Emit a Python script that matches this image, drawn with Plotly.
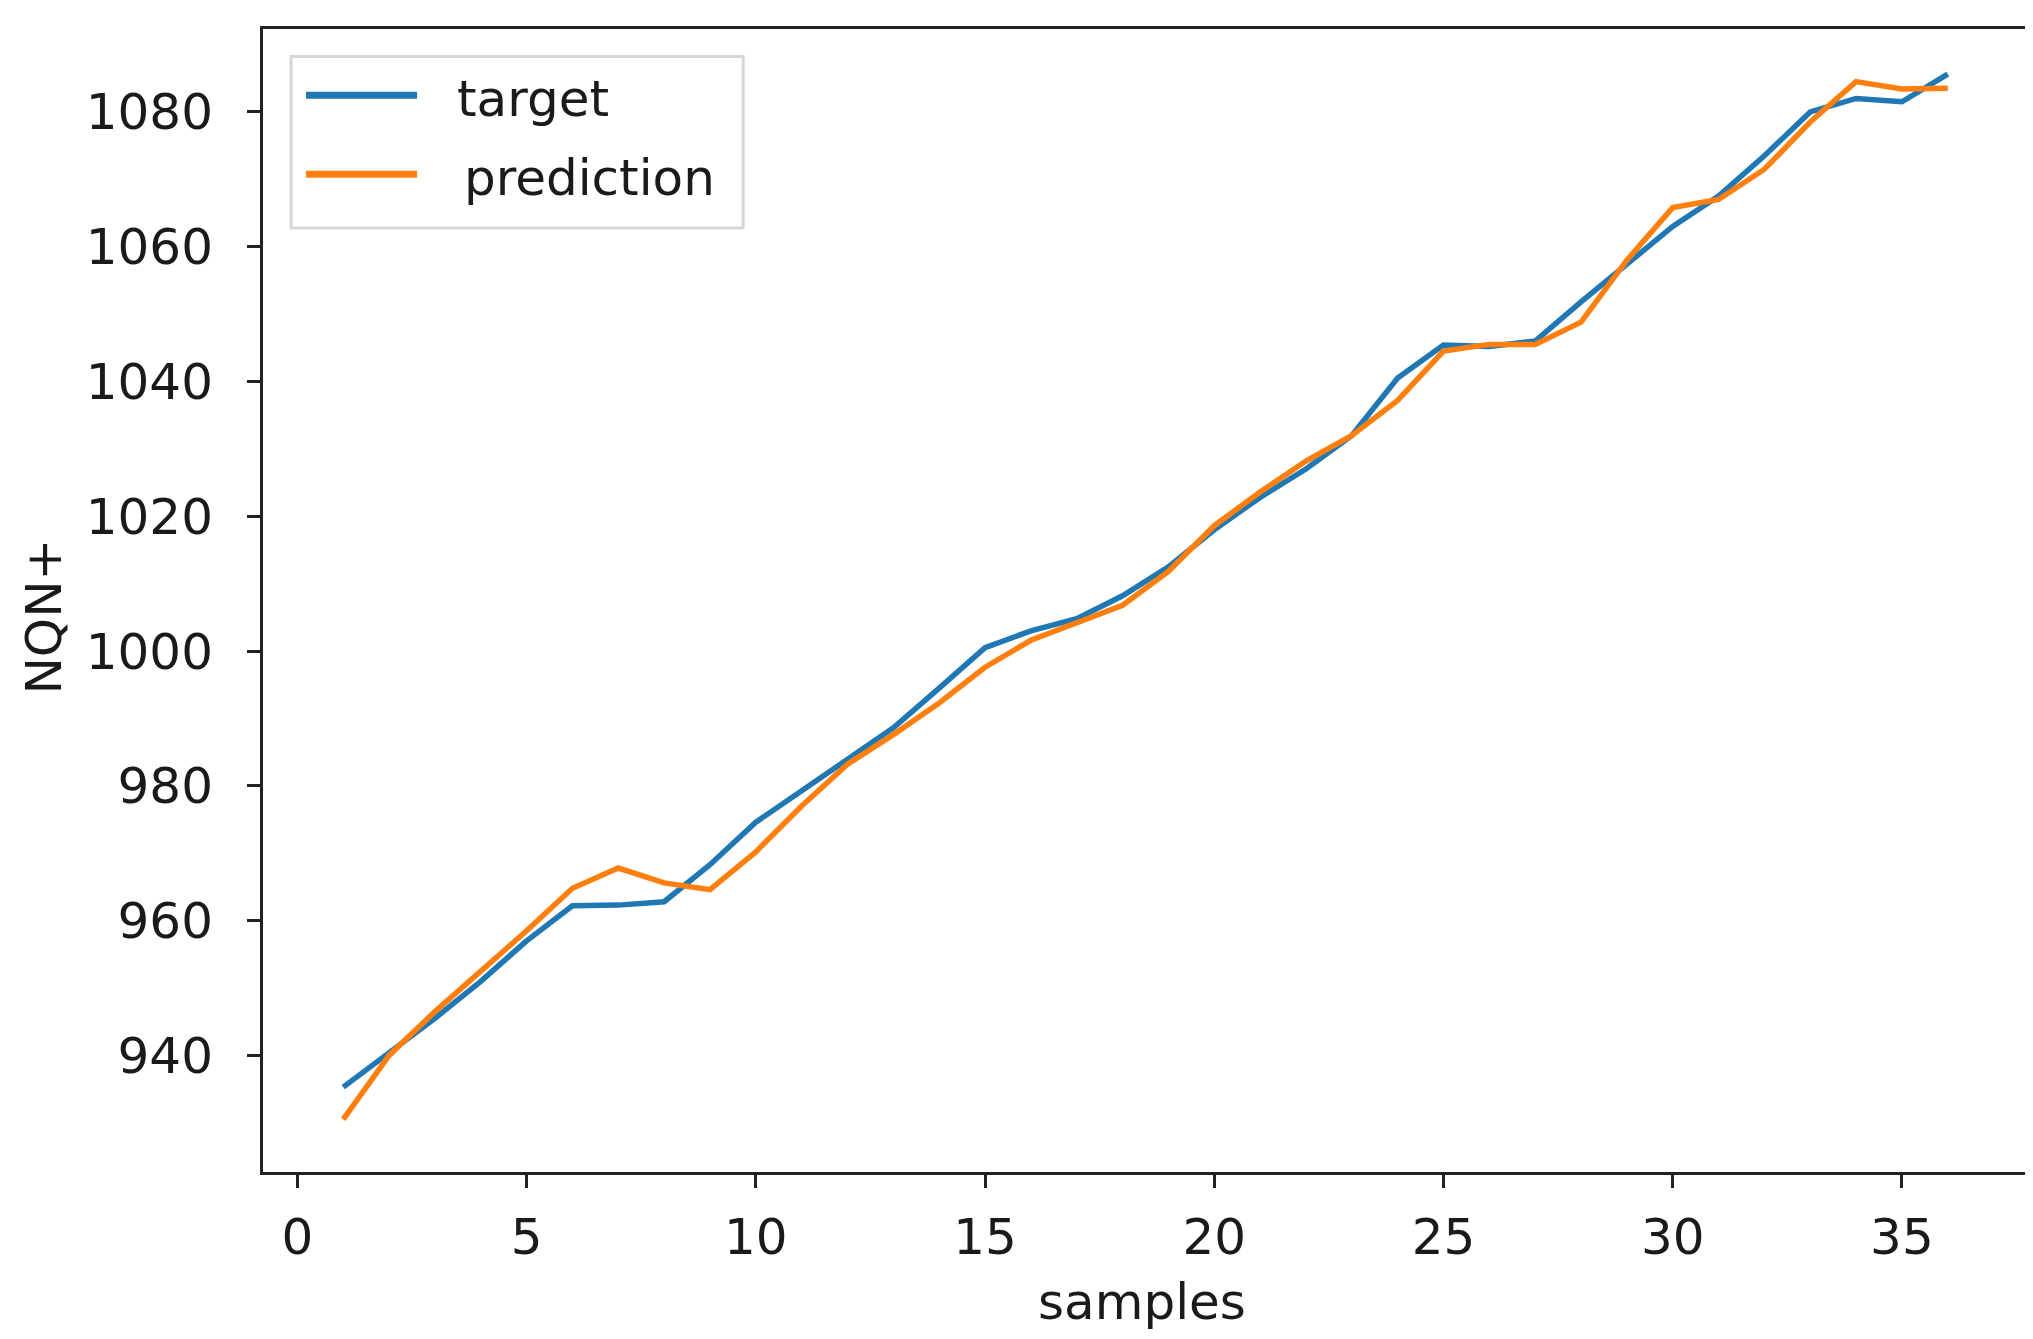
import plotly.graph_objects as go

samples = list(range(1, 37))
target = [935.3, 940.5, 945.5, 951.0, 957.0, 962.2, 962.3, 962.8, 968.3, 974.6,
          979.3, 983.8, 988.6, 994.5, 1000.5, 1003.0, 1004.8, 1008.2, 1012.5, 1018.0,
          1022.8, 1027.0, 1032.0, 1040.5, 1045.4, 1045.2, 1046.0, 1051.8, 1057.5, 1063.0,
          1067.5, 1073.5, 1080.0, 1082.0, 1081.5, 1085.6]
prediction = [930.5, 940.0, 946.5, 952.5, 958.5, 964.8, 967.8, 965.6, 964.6, 970.2,
              977.0, 983.2, 987.6, 992.3, 997.6, 1001.6, 1004.2, 1006.8, 1011.8, 1018.6,
              1023.6, 1028.2, 1032.0, 1037.2, 1044.5, 1045.5, 1045.5, 1048.8, 1058.0, 1065.8,
              1067.0, 1071.5, 1078.5, 1084.5, 1083.4, 1083.5]

x_ticks = [0, 5, 10, 15, 20, 25, 30, 35]
y_ticks = [940, 960, 980, 1000, 1020, 1040, 1060, 1080]
series_names = ["target", "prediction"]
series_colors = ["#1f77b4", "#ff7f0e"]
x_title = "samples"
y_title = "NQN+"

FONT = "DejaVu Sans"
FS = 50
fig = go.Figure()
for name, vals, col in zip(series_names, [target, prediction], series_colors):
    fig.add_trace(go.Scatter(x=samples, y=vals, mode="lines", name=name,
                             line=dict(color=col, width=5.5), showlegend=False))

# manual legend (matplotlib style)
fig.add_shape(type="rect", xref="paper", yref="paper", x0=0.0159, x1=0.272,
              y0=0.826, y1=0.976, line=dict(color="#d6d6d6", width=3),
              fillcolor="rgba(255,255,255,0.8)", layer="above")
leg_y_line = [0.942, 0.873]
leg_y_text = [0.939, 0.870]
leg_x_text = [0.1088, 0.1127]
for i, (name, col) in enumerate(zip(series_names, series_colors)):
    fig.add_shape(type="line", xref="paper", yref="paper", x0=0.0244, x1=0.0873,
                  y0=leg_y_line[i], y1=leg_y_line[i], line=dict(color=col, width=7),
                  layer="above")
    fig.add_annotation(xref="paper", yref="paper", x=leg_x_text[i], y=leg_y_text[i],
                       text=name, showarrow=False, xanchor="left", yanchor="middle",
                       font=dict(family=FONT, size=FS, color="#1a1a1a"))

# axis titles
fig.add_annotation(xref="paper", yref="paper", x=0.498, y=-0.114, text=x_title,
                   showarrow=False, xanchor="center", yanchor="middle",
                   font=dict(family=FONT, size=FS, color="#1a1a1a"))
fig.add_annotation(xref="paper", yref="paper", x=-0.1246, y=0.486, text=y_title,
                   showarrow=False, xanchor="center", yanchor="middle", textangle=-90,
                   font=dict(family=FONT, size=FS, color="#1a1a1a"))

fig.update_layout(
    width=2033, height=1339,
    margin=dict(l=255, r=13, t=21, b=175),
    paper_bgcolor="white", plot_bgcolor="white",
    font=dict(family=FONT, size=FS, color="#1a1a1a"),
    showlegend=False,
)
fig.update_xaxes(range=[-0.75, 37.75], tickvals=x_ticks, ticks="outside", ticklen=13,
                 tickwidth=3, tickcolor="#222", showline=True, linecolor="#222", linewidth=3,
                 mirror=True, showgrid=False, zeroline=False, automargin=False,
                 tickfont=dict(size=FS), ticklabelstandoff=6)
fig.update_yaxes(range=[922.7, 1092.3], tickvals=y_ticks, ticks="outside", ticklen=13,
                 tickwidth=3, tickcolor="#222", showline=True, linecolor="#222", linewidth=3,
                 mirror=True, showgrid=False, zeroline=False, automargin=False,
                 tickfont=dict(size=FS), ticklabelstandoff=24)

fig.write_html("out.html")
